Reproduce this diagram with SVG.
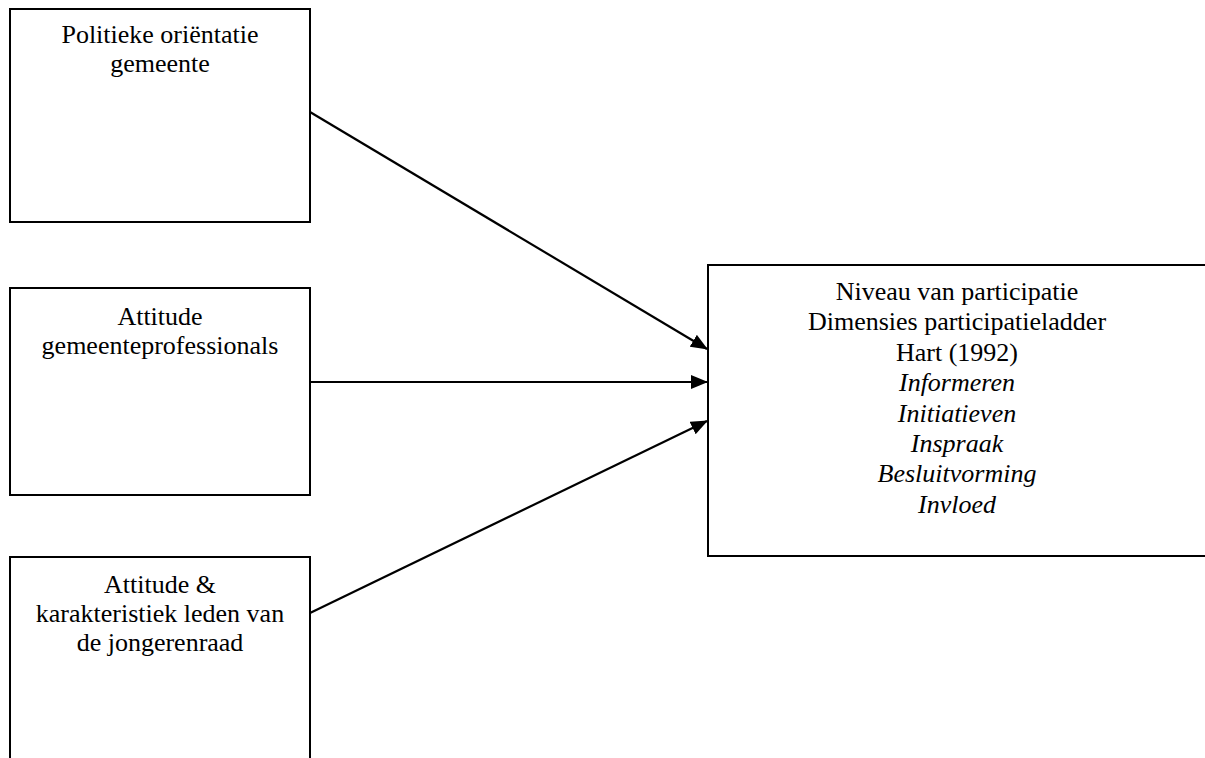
<svg xmlns="http://www.w3.org/2000/svg" width="1205" height="758" viewBox="0 0 1205 758">
<style>
.box{fill:#fff;stroke:#000;stroke-width:2}
.t{font-family:"Liberation Serif","Times New Roman",serif;font-size:26px;fill:#000;text-anchor:middle}
.i{font-style:italic}
.c{stroke:#000;stroke-width:2.2;fill:none}
</style>
<defs>
<marker id="ah" markerUnits="userSpaceOnUse" markerWidth="17" markerHeight="14" refX="16" refY="7" orient="auto">
<path d="M0,0 L17,7 L0,14 Z" fill="#000"/>
</marker>
</defs>
<rect width="1205" height="758" fill="#fff"/>
<g id="n1">
<rect class="box" x="10" y="9" width="300" height="213"/>
<text class="t" x="160" y="43">Politieke oriëntatie</text>
<text class="t" x="160" y="72">gemeente</text>
</g>
<g id="n2">
<rect class="box" x="10" y="288" width="300" height="207"/>
<text class="t" x="160" y="325">Attitude</text>
<text class="t" x="160" y="354">gemeenteprofessionals</text>
</g>
<g id="n3">
<rect class="box" x="10" y="557" width="300" height="220"/>
<text class="t" x="160" y="593">Attitude &amp;</text>
<text class="t" x="160" y="622">karakteristiek leden van</text>
<text class="t" x="160" y="651">de jongerenraad</text>
</g>
<g id="n4">
<rect class="box" x="708" y="265" width="510" height="291"/>
<text class="t" x="957" y="300">Niveau van participatie</text>
<text class="t" x="957" y="330">Dimensies participatieladder</text>
<text class="t" x="957" y="361">Hart (1992)</text>
<text class="t i" x="957" y="391">Informeren</text>
<text class="t i" x="957" y="422">Initiatieven</text>
<text class="t i" x="957" y="452">Inspraak</text>
<text class="t i" x="957" y="482">Besluitvorming</text>
<text class="t i" x="957" y="513">Invloed</text>
</g>
<g id="connectors">
<line class="c" x1="310" y1="112" x2="707" y2="349" marker-end="url(#ah)"/>
<line class="c" x1="310" y1="382" x2="707" y2="382" marker-end="url(#ah)"/>
<line class="c" x1="310" y1="613" x2="707" y2="421" marker-end="url(#ah)"/>
</g>
</svg>
